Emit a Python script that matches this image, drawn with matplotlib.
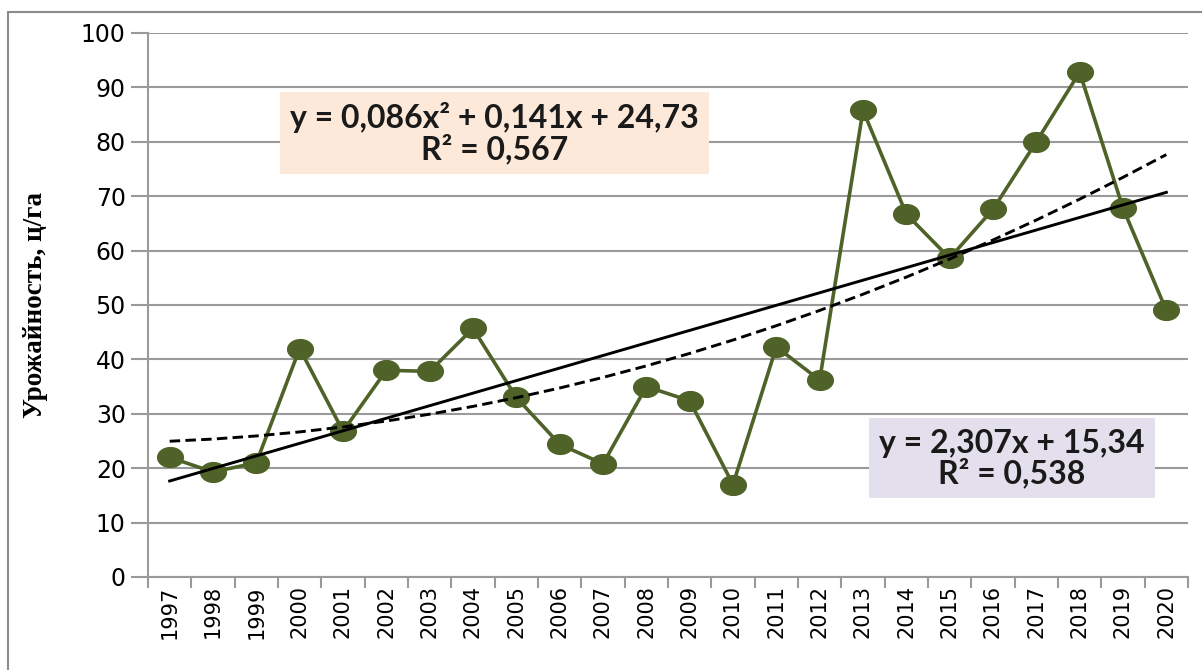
import numpy as np
import matplotlib
matplotlib.use("Agg")
import matplotlib.pyplot as plt
from matplotlib.patches import Rectangle
from matplotlib.path import Path

years = list(range(1997, 2021))
yields = [22.0, 19.3, 21.0, 42.0, 26.8, 38.0, 37.8, 45.7, 33.0, 24.4, 20.8, 35.0,
          32.4, 17.0, 42.3, 36.2, 85.8, 66.7, 58.6, 67.6, 80.0, 92.8, 67.8, 49.0]
lin_coef = [2.307, 15.34]          # y = a*x + b
poly_coef = [0.086, 0.141, 24.73]  # y = a*x^2 + b*x + c
lin_label = "y = 2,307x + 15,34\nR² = 0,538"
poly_label = "y = 0,086x² + 0,141x + 24,73\nR² = 0,567"
ylabel = "Урожайность, ц/га"

W, H = 1202, 670
fig = plt.figure(figsize=(W / 100, H / 100), dpi=100)
ax = fig.add_axes([148 / W, 1 - 577 / H, (1188 - 148) / W, (577 - 33) / H])

# outer chart-area frame (cut off at right and bottom in the reference)
fig.patches.append(Rectangle((8 / W, -0.1), 1.2, 1 - 12 / H + 0.1, transform=fig.transFigure,
                             fill=False, edgecolor="#8c8c8c", linewidth=1.5))

# slightly wide ellipse marker, like the stretched excel picture
t = np.linspace(0, 2 * np.pi, 60)
ellipse = Path(np.column_stack([1.3 * np.cos(t), np.sin(t)]), closed=True)

x = np.arange(1, len(years) + 1)
grid_c = "#9a9a9a"
ax.set_xlim(0.5, len(years) + 0.5)
ax.set_ylim(0, 100)
ax.set_yticks(range(0, 101, 10))
ax.yaxis.grid(True, color=grid_c, linewidth=1.5)
ax.set_axisbelow(True)

ax.plot(x, yields, color="#4f6228", linewidth=2.6, marker=ellipse, markersize=18.5,
        markeredgecolor="#4f6228", zorder=3)
ax.plot(x, np.polyval(lin_coef, x), color="black", linewidth=2.1, zorder=4)
ax.plot(x, np.polyval(poly_coef, x), color="black", linewidth=2.1,
        linestyle=(0, (3.6, 1.8)), zorder=4)

ax.set_xticks(x)
ax.set_xticklabels([str(y) for y in years], rotation=90, fontsize=15)
ax.set_xticks(np.arange(0.5, len(years) + 1), minor=True)
ax.tick_params(axis="x", which="major", length=0, pad=6)
ax.tick_params(axis="x", which="minor", length=8, width=1.5, color=grid_c)
ax.tick_params(axis="y", length=12, width=1.5, color=grid_c, labelsize=17, pad=4)

for s in ["top", "right"]:
    ax.spines[s].set_visible(False)
for s in ["left", "bottom"]:
    ax.spines[s].set_color(grid_c)
    ax.spines[s].set_linewidth(1.5)

ax.set_ylabel(ylabel, family="Liberation Serif", fontweight="bold", fontsize=19.5)
ax.yaxis.set_label_coords(-(148 - 48) / (1188 - 148), 0.5)

box_font = dict(fontsize=23, fontweight="bold", family="Lato", ha="center", va="center",
                linespacing=1.0, color="#1a1a1a")
ax.text(8.5, 81.6, poly_label,
        bbox=dict(boxstyle="square,pad=0.32", facecolor="#fde9d9", edgecolor="none"), **box_font)
ax.text(20.43, 21.8, lin_label,
        bbox=dict(boxstyle="square,pad=0.32", facecolor="#e4dfec", edgecolor="none"), **box_font)

fig.savefig("out.png", dpi=100)
